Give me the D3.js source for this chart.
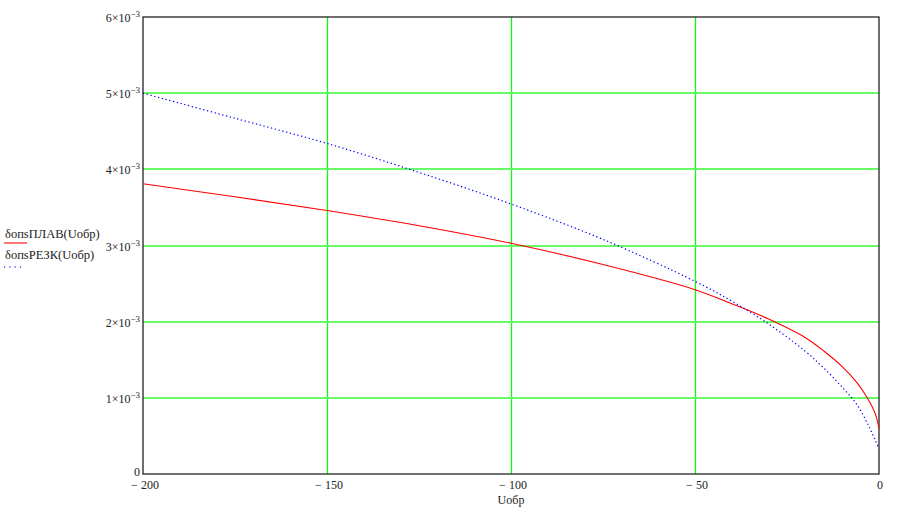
<!DOCTYPE html>
<html>
<head>
<meta charset="utf-8">
<script src="https://cdn.jsdelivr.net/npm/d3@7"></script>
<style>
  body { margin: 0; background: #fff; }
  text { font-family: "Liberation Serif", "Times New Roman", serif; fill: #222; }
</style>
</head>
<body>
<script>
// values (U in volts, delta in units of 1e-3)
var uValues = [-200, -175, -150, -125, -100, -75, -50, -40, -30, -20, -15, -10, -6, -3, -1, 0];
var plavValues = [3.81, 3.64, 3.46, 3.26, 3.03, 2.75, 2.42, 2.235, 2.035, 1.79, 1.615, 1.41, 1.20, 0.985, 0.79, 0.60];
var rezkValues = [5.00, 4.67, 4.34, 3.96, 3.545, 3.08, 2.53, 2.27, 1.97, 1.61, 1.39, 1.14, 0.91, 0.65, 0.44, 0.33];
var xTicks = [-200, -150, -100, -50, 0];
var yTicks = [0, 1, 2, 3, 4, 5, 6];
var seriesNames = ["δопsПЛАВ(Uобр)", "δопsРЕЗК(Uобр)"];
var xTitle = "Uобр";

var W = 899, H = 511;
var margin = { top: 17, right: 20, bottom: 37, left: 143 },
    width = 879 - margin.left,
    height = 474 - margin.top;

var x = d3.scaleLinear().domain([-200, 0]).range([0, width]);
var y = d3.scaleLinear().domain([0, 6]).range([height, 0]);

var svg = d3.select("body").append("svg")
    .attr("width", W).attr("height", H);
var g = svg.append("g")
    .attr("transform", "translate(" + margin.left + "," + margin.top + ")");

// grid
g.append("g").selectAll("line").data(xTicks.filter(function (d) { return d > -200 && d < 0; }))
    .enter().append("line")
    .attr("x1", function (d) { return Math.round(x(d)) + 0.5; })
    .attr("x2", function (d) { return Math.round(x(d)) + 0.5; })
    .attr("y1", 0).attr("y2", height)
    .attr("stroke", "#11f511").attr("stroke-width", 1.3);
g.append("g").selectAll("line").data(yTicks.filter(function (d) { return d > 0 && d < 6; }))
    .enter().append("line")
    .attr("x1", 0).attr("x2", width)
    .attr("y1", function (d) { return Math.round(y(d)); })
    .attr("y2", function (d) { return Math.round(y(d)); })
    .attr("stroke", "#66fa66").attr("stroke-width", 2);

// frame
g.append("rect").attr("x", 0).attr("y", 0).attr("width", width).attr("height", height)
    .attr("fill", "none").attr("stroke", "#222").attr("stroke-width", 1.3);

// curves
var line = d3.line().curve(d3.curveCatmullRom.alpha(0.5))
    .x(function (d) { return x(d[0]); })
    .y(function (d) { return y(d[1]); });

g.append("path").datum(d3.zip(uValues, plavValues))
    .attr("d", line).attr("fill", "none")
    .attr("stroke", "#ff0000").attr("stroke-width", 1.1);
g.append("path").datum(d3.zip(uValues, rezkValues))
    .attr("d", line).attr("fill", "none")
    .attr("stroke", "#0000ff").attr("stroke-width", 1.2)
    .attr("stroke-dasharray", "1.3,2.6");

// y tick labels
var yl = g.append("g").selectAll("text").data(yTicks).enter().append("text")
    .attr("x", -3)
    .attr("y", function (d) { return d === 0 ? y(d) + 2 : y(d) + 5; })
    .attr("text-anchor", "end")
    .attr("font-size", 12);
yl.each(function (d) {
    var t = d3.select(this);
    if (d === 0) { t.text("0"); return; }
    t.append("tspan").text(d + "×10");
    t.append("tspan").attr("dy", -5).attr("font-size", 9).text("−3");
});

// x tick labels
g.append("g").selectAll("text").data(xTicks).enter().append("text")
    .attr("x", function (d) { return x(d) + (d === 0 ? 1 : 2); })
    .attr("y", height + 15)
    .attr("text-anchor", "middle")
    .attr("font-size", 12)
    .text(function (d) { return d === 0 ? "0" : "− " + (-d); });

// x title
g.append("text").attr("x", x(-100)).attr("y", height + 30)
    .attr("text-anchor", "middle").attr("font-size", 12).text(xTitle);

// legend
var leg = svg.append("g");
leg.append("text").attr("x", 5).attr("y", 238).attr("font-size", 12.5).text(seriesNames[0]);
leg.append("line").attr("x1", 4).attr("x2", 27).attr("y1", 243).attr("y2", 243)
    .attr("stroke", "#ff0000").attr("stroke-width", 1.1);
leg.append("text").attr("x", 5).attr("y", 259).attr("font-size", 12.5).text(seriesNames[1]);
leg.append("line").attr("x1", 4).attr("x2", 24).attr("y1", 267).attr("y2", 267)
    .attr("stroke", "#0000ff").attr("stroke-width", 1.2).attr("stroke-dasharray", "1.3,4");
</script>
</body>
</html>
